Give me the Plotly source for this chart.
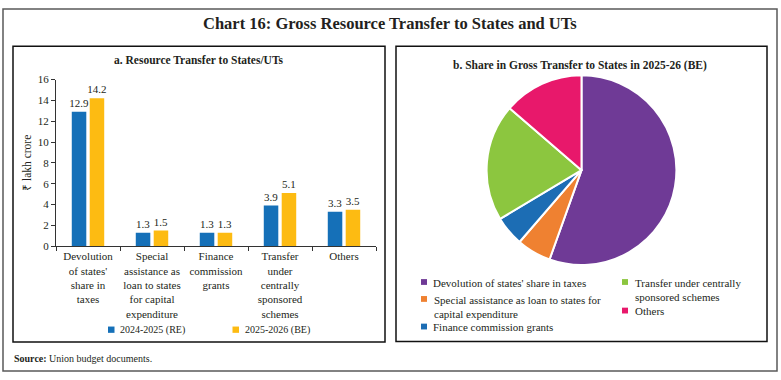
import plotly.graph_objects as go

# ---------------- data ----------------
categories = [
    "Devolution<br>of states'<br>share in<br>taxes",
    "Special<br>assistance as<br>loan to states<br>for capital<br>expenditure",
    "Finance<br>commission<br>grants",
    "Transfer<br>under<br>centrally<br>sponsored<br>schemes",
    "Others",
]
pie_labels = [
    "Devolution of states' share in taxes",
    "Special assistance as loan to states for capital expenditure",
    "Finance commission grants",
    "Transfer under centrally sponsored schemes",
    "Others",
]
pie_legend_text = [
    "Devolution of states' share in taxes",
    "Special assistance as loan to states for<br>capital expenditure",
    "Finance commission grants",
    "Transfer under centrally<br>sponsored schemes",
    "Others",
]
re_2024_25 = [12.9, 1.3, 1.3, 3.9, 3.3]
be_2025_26 = [14.2, 1.5, 1.3, 5.1, 3.5]
series_names = ["2024-2025 (RE)", "2025-2026 (BE)"]
y_ticks = [0, 2, 4, 6, 8, 10, 12, 14, 16]

# ---------------- style ----------------
W, H = 781, 380
FONT = "Liberation Serif"
TXT = "#231f20"
BAR_BLUE = "#1570b8"
BAR_YELLOW = "#fdbb12"
PIE_COLORS = ["#6f3a96", "#ef8131", "#1c6db4", "#8cc63f", "#e8186b"]


def px(x):
    return x / W


def py(y):
    return 1 - y / H


fig = go.Figure()

for vals, name, col in [(re_2024_25, series_names[0], BAR_BLUE),
                        (be_2025_26, series_names[1], BAR_YELLOW)]:
    fig.add_trace(go.Bar(
        x=categories, y=vals, name=name, marker=dict(color=col, line=dict(width=0)),
        text=[f"{v:.1f}" for v in vals], textposition="outside", constraintext="none",
        textfont=dict(family=FONT, size=11, color=TXT), cliponaxis=False,
        showlegend=False, xaxis="x", yaxis="y",
    ))

fig.add_trace(go.Pie(
    labels=pie_labels, values=be_2025_26, sort=False, direction="clockwise",
    rotation=0, marker=dict(colors=PIE_COLORS, line=dict(color="white", width=2)),
    textinfo="none", showlegend=False, hoverinfo="label+percent",
    domain=dict(x=[px(484), px(679)], y=[py(267.5), py(71.5)]),
))

shapes = [
    # outer frame
    dict(type="rect", xref="paper", yref="paper", x0=px(3), x1=px(777), y0=py(377), y1=py(3),
         line=dict(color="#5a5a5a", width=1.5)),
    # panel frames
    dict(type="rect", xref="paper", yref="paper", x0=px(13), x1=px(385), y0=py(347), y1=py(41.5),
         line=dict(color="#111", width=1.5)),
    dict(type="rect", xref="paper", yref="paper", x0=px(396), x1=px(767), y0=py(346.5), y1=py(41.5),
         line=dict(color="#111", width=1.5)),
]


def ann(text, x, y, size, xanchor="center", yanchor="middle", **kw):
    return dict(text=text, x=px(x), y=py(y), xref="paper", yref="paper", showarrow=False,
                xanchor=xanchor, yanchor=yanchor,
                font=dict(family=FONT, size=size, color=TXT), **kw)


annotations = [
    ann("<b>Chart 16: Gross Resource Transfer to States and UTs</b>", 390, 18.5, 16.5),
    ann("<b>a. Resource Transfer to States/UTs</b>", 198.5, 56, 11.5),
    ann("<b>b. Share in Gross Transfer to States in 2025-26 (BE)</b>", 580, 61, 11.5),
    ann("₹ lakh crore", 27, 162, 11.5, textangle=-90),
    ann("<b>Source:</b> Union budget documents.", 11.5, 363.5, 10, xanchor="left"),
]

# bar legend (manual)
for (sx, tx), name, col in zip([(108, 117.5), (232.5, 242.5)], series_names, [BAR_BLUE, BAR_YELLOW]):
    shapes.append(dict(type="rect", xref="paper", yref="paper", x0=px(sx), x1=px(sx + 6.5),
                       y0=py(337.5), y1=py(331), fillcolor=col, line=dict(width=0)))
    annotations.append(ann(name, tx, 334.5, 10, xanchor="left"))

# pie legend (manual, two columns)
pie_leg_pos = [(421, 285), (421, 302.5), (421, 331), (622, 285), (622, 314.5)]
for (mx, my), txt, col in zip(pie_leg_pos, pie_legend_text, PIE_COLORS):
    shapes.append(dict(type="rect", xref="paper", yref="paper", x0=px(mx), x1=px(mx + 6),
                       y0=py(my + 3), y1=py(my - 3), fillcolor=col, line=dict(width=0)))
    annotations.append(ann(txt, mx + 10.5, my - 7.5, 11, xanchor="left", yanchor="top",
                           align="left"))

fig.update_layout(
    width=W, height=H, margin=dict(l=0, r=0, t=0, b=0),
    paper_bgcolor="white", plot_bgcolor="white",
    barmode="group", bargap=0.44, bargroupgap=0.19,
    font=dict(family=FONT, color=TXT),
    xaxis=dict(domain=[px(56), px(376)], type="category", tickson="boundaries",
               ticks="outside", ticklen=4, tickcolor="#333", showline=True, linecolor="#333",
               linewidth=1, showgrid=False, tickangle=0,
               tickfont=dict(family=FONT, size=11, color=TXT), fixedrange=True),
    yaxis=dict(domain=[py(248), py(76)], range=[0, 16], tickvals=y_ticks,
               ticks="outside", ticklen=4, tickcolor="#333", showline=True, linecolor="#333",
               linewidth=1, showgrid=False, zeroline=False,
               tickfont=dict(family=FONT, size=11, color=TXT), fixedrange=True),
    shapes=shapes, annotations=annotations,
)

fig.write_html(
    "out.html", config={"displayModeBar": False},
    post_script=("document.documentElement.style.margin='0';"
                 "document.documentElement.style.overflow='hidden';"
                 "document.body.style.margin='0';document.body.style.overflow='hidden';"),
)
